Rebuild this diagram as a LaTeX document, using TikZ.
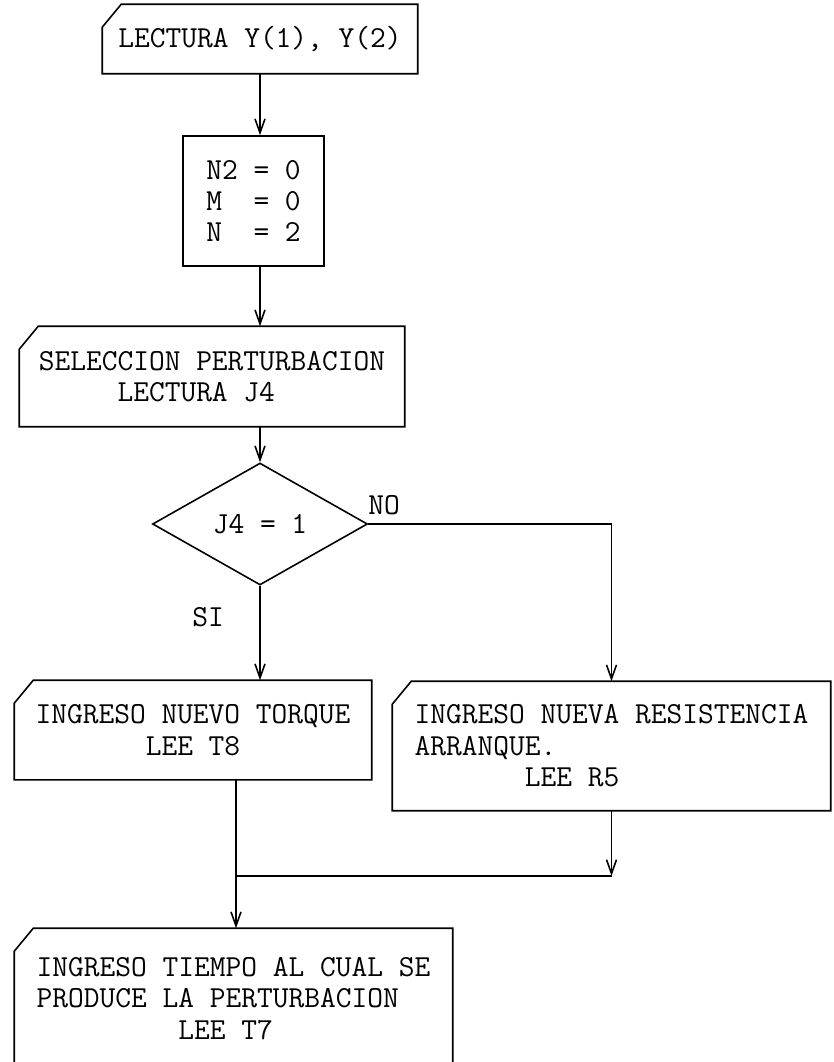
\documentclass[tikz,border=0pt]{standalone}
\usepackage{fontspec}
\usetikzlibrary{shapes.geometric,arrows.meta}

\tikzset{
  texto/.style={font=\ttfamily\fontsize{17.4}{17.9}\selectfont},
  caja/.style={rectangle,draw,line width=0.9pt,inner sep=0pt,align=center,texto},
  entrada/.style={caja,draw=none},
  decision/.style={diamond,draw,line width=0.9pt,inner sep=0pt,minimum width=4.3cm,minimum height=2.44cm,texto},
  rotulo/.style={inner sep=0pt,texto},
  flujo/.style={line width=0.9pt,-{Straight Barb[length=0.28cm,width=0.2cm]}},
  linea/.style={line width=0.9pt}
}
% caja de entrada con la esquina superior izquierda cortada
\newcommand{\esquina}[1]{\draw[line width=0.9pt] ([yshift=-0.46cm]#1.north west) -- ([xshift=0.38cm]#1.north west) -- (#1.north east) -- (#1.south east) -- (#1.south west) -- cycle;}

\begin{document}
\begin{tikzpicture}[x=0.02cm,y=-0.02cm]
    \useasboundingbox (0,0) rectangle (833,1062);
    \clip (0,0) rectangle (833,1062);

    % Lectura inicial
    \node[entrada,minimum width=6.28cm,minimum height=1.36cm] (lect) at (260,39) {LECTURA Y(1), Y(2)};
    \esquina{lect}

    % Valores iniciales
    \node[caja,align=left,minimum width=2.82cm,minimum height=2.6cm] (inic) at (253.5,201) {N2 = 0\\M\hphantom{0} = 0\\N\hphantom{0} = 2};

    % Seleccion de la perturbacion
    \node[entrada,align=left,minimum width=7.68cm,minimum height=1.98cm] (selec) at (212,376.5) {SELECCION PERTURBACION\\\hphantom{00000}LECTURA J4};
    \esquina{selec}

    % Decision
    \node[decision] (prueba) at (260,524) {J4 = 1};
    \node[rotulo] (no) at (384,505) {NO};
    \node[rotulo] (si) at (208,617) {SI};

    % Ramas
    \node[entrada,minimum width=7.12cm,minimum height=1.96cm] (torque) at (193,730) {INGRESO NUEVO TORQUE\\LEE T8};
    \esquina{torque}
    \node[entrada,align=left,minimum width=8.74cm,minimum height=2.56cm] (resist) at (611.5,746) {INGRESO NUEVA RESISTENCIA\\ARRANQUE.\\\hphantom{0000000}LEE R5};
    \esquina{resist}

    % Tiempo de la perturbacion
    \node[entrada,align=left,minimum width=8.74cm,minimum height=2.78cm] (tiempo) at (233.5,998.5) {INGRESO TIEMPO AL CUAL SE\\PRODUCE LA PERTURBACION\\\hphantom{000000000}LEE T7};
    \esquina{tiempo}

    % Conectores
    \draw[flujo] (lect.south) -- (lect.south |- inic.north);
    \draw[flujo] (lect.south |- inic.south) -- (lect.south |- selec.north);
    \draw[flujo] (prueba.north |- selec.south) -- (prueba.north);
    \draw[flujo] (prueba.south) -- (prueba.south |- torque.north);
    \draw[flujo] (prueba.east) -| (resist.north);
    \coordinate (union) at (236,876);
    \draw[linea] (union |- torque.south) -- (union);
    \draw[flujo] (resist.south) -- (resist.south |- union);
    \draw[linea] (resist.south |- union) -- (union);
    \draw[flujo] (union) -- (union |- tiempo.north);
\end{tikzpicture}
\end{document}
